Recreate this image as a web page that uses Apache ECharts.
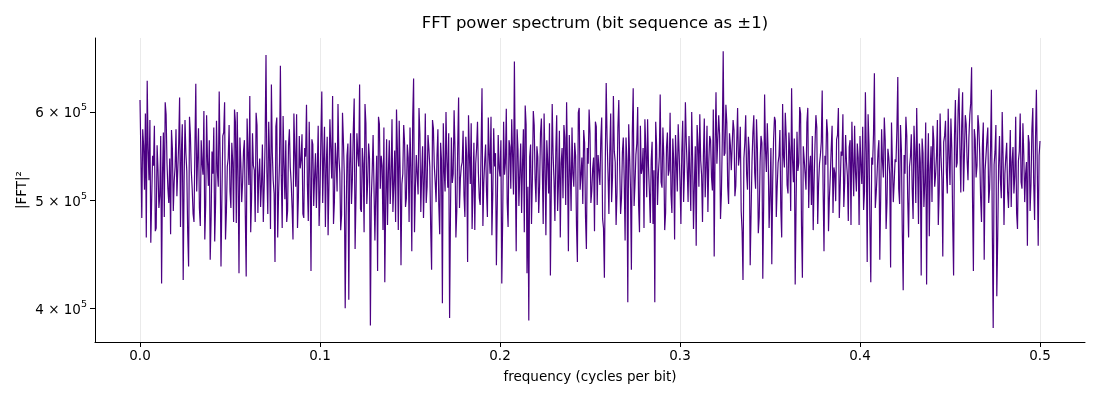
<!DOCTYPE html>
<html>
<head>
<meta charset="utf-8">
<script src="https://cdn.jsdelivr.net/npm/echarts@6/dist/echarts.min.js"></script>
<style>html,body{margin:0;padding:0;background:#fff}#c{width:1100px;height:400px}</style>
</head>
<body>
<div id="c"></div>
<script>
// Frequency bin spacing (cycles per bit) and |FFT|^2 values (in thousands)
const FREQ_STEP = 0.0005;
const xTicks = [0, 0.1, 0.2, 0.3, 0.4, 0.5];
const yTicks = [4e5, 5e5, 6e5];
// values at even bins (f = 0, 0.001, 0.002, ... 0.5)
const powerEvenK = [
615,482,560,598,640,521,458,548,583,472,
533,505,421,575,612,540,497,466,556,520,
579,505,618,553,424,590,531,436,572,512,
478,636,545,492,566,527,461,596,515,442,
553,581,497,530,626,436,571,612,488,545,
509,563,478,588,600,430,541,519,566,427,
552,620,503,537,478,584,526,493,561,515,
675,486,545,635,521,440,593,507,660,472,
538,566,489,579,518,461,552,597,503,534,
573,482,547,516,588,432,561,525,492,583,
508,626,544,473,570,519,556,620,498,541,
610,529,485,566,400,548,407,574,522,617,
503,551,635,488,539,610,496,562,386,531,
574,509,432,585,548,470,422,567,530,496,
591,517,478,556,589,437,528,563,502,546,
581,450,643,512,547,605,488,559,524,497,
572,536,433,580,519,548,495,563,404,532,
600,513,392,569,528,556,489,618,523,541,
505,570,440,549,586,512,470,557,529,495,
630,518,561,483,549,594,507,536,437,572,
525,421,588,540,497,566,512,548,666,450,
555,530,487,579,608,430,390,561,523,584,
498,547,515,592,476,538,566,507,428,610,
521,553,489,577,540,502,569,612,450,533,
581,514,548,440,605,527,496,563,452,539,
574,510,546,588,495,532,567,481,426,637,
529,553,498,620,541,508,615,486,552,522,
569,405,548,433,630,517,562,495,583,534,
472,556,591,509,543,476,405,560,528,622,
513,547,487,575,532,506,568,461,541,585,
520,553,498,612,534,571,489,546,518,455,
562,597,527,549,503,583,541,566,510,445,
625,538,572,506,680,551,587,496,560,532,
578,515,605,547,489,424,563,528,570,437,
541,596,512,556,483,571,425,622,530,549,
505,438,567,589,514,548,492,610,535,571,
507,552,630,519,420,576,540,598,426,544,
511,605,536,495,470,560,581,517,549,627,
450,538,574,502,556,487,529,567,605,514,
548,493,572,526,558,475,541,583,509,546,
571,517,490,625,440,561,422,538,650,507,
553,442,579,524,566,498,546,435,585,519,
541,645,496,555,415,528,571,463,547,512,
583,497,538,562,428,551,519,420,574,533,
498,566,527,590,509,548,445,571,530,604,
516,557,428,615,540,630,508,625,549,585,
521,596,658,432,567,537,582,503,559,442,
548,581,512,628,384,553,410,536,521,600,
475,547,509,531,493,558,526,487,542,598,
512,549,528,455,563,517,605,480,628,455,
565
];
// values at odd bins (f = 0.0005, 0.0015, ... 0.4995)
const powerOddK = [
548,579,511,463,556,590,502,537,469,560,
492,571,528,483,597,512,545,578,489,536,
504,562,473,585,519,551,468,594,531,486,
557,509,580,474,539,601,495,542,566,481,
528,459,589,514,547,503,575,461,536,584,
492,541,603,477,526,569,498,553,485,592,
516,468,574,532,599,487,545,517,478,563,
530,588,471,552,507,582,463,541,526,595,
501,478,560,535,492,598,514,472,571,543,
486,557,609,479,524,567,494,551,533,474,
569,497,582,538,465,591,523,476,563,509,
547,470,599,527,483,562,539,496,578,452,
574,536,491,557,468,586,519,545,502,572,
460,548,594,512,537,581,499,475,566,525,
488,554,603,470,532,517,584,493,561,478,
535,592,468,549,506,573,528,482,598,514,
556,471,590,537,498,579,466,543,586,509,
541,574,489,518,602,463,557,492,536,577,
483,548,596,517,471,563,539,588,502,556,
474,542,509,593,528,465,580,551,497,534,
566,482,527,604,473,558,591,506,531,579,
494,562,538,468,585,514,547,476,601,523,
559,487,574,533,598,465,541,586,512,550,
479,596,518,463,557,584,495,538,572,489,
528,563,474,599,511,546,578,483,557,603,
497,534,469,582,549,516,593,472,541,567,
486,598,524,553,475,581,537,502,569,460,
543,585,512,574,494,549,606,468,528,557,
591,503,536,477,564,532,588,495,547,519,
581,470,558,526,599,487,542,572,509,553,
476,589,531,564,498,527,600,471,559,584,
514,543,478,592,536,488,571,524,603,557,
539,596,481,567,548,609,515,574,532,590,
504,561,537,582,469,545,596,511,553,488,
575,529,591,467,541,563,498,554,586,472,
557,520,594,483,540,578,463,548,599,516,
575,489,544,568,497,531,606,474,559,528,
587,492,548,571,519,596,476,539,564,512,
548,591,469,526,583,535,499,572,482,553,
597,518,541,479,566,588,504,530,562,475,
538,582,509,553,597,477,546,573,492,528,
566,503,541,593,471,556,528,587,498,544,
579,512,584,467,549,594,502,536,573,481,
552,605,476,541,568,493,587,531,464,559,
583,514,548,475,598,522,564,589,507,548,
592,478,571,535,602,557,583,509,596,543,
569,611,503,579,524,596,551,478,587,532,
566,497,554,470,538,584,462,571,502,546,
528,563,492,578,541,507,594,471,553,519,
586,498,541,572,489,579,518,567,532,548
];

const seriesData = [];
powerEvenK.forEach((v, i) => {
  seriesData.push([2 * i * FREQ_STEP, v * 1000]);
  if (i < powerOddK.length) seriesData.push([(2 * i + 1) * FREQ_STEP, powerOddK[i] * 1000]);
});

const FONT = 'DejaVu Sans';
const chart = echarts.init(document.getElementById('c'), null, {renderer: 'canvas'});
chart.setOption({
  animation: false,
  backgroundColor: '#fff',
  title: {
    text: 'FFT power spectrum (bit sequence as ±1)',
    left: 590, top: 10, textAlign: 'center',
    textStyle: {fontFamily: FONT, fontSize: 16.5, fontWeight: 'normal', color: '#000'}
  },
  grid: {left: 95, right: 15, top: 38, bottom: 58, containLabel: false},
  xAxis: {
    type: 'value', min: -0.025, max: 0.525,
    name: 'frequency (cycles per bit)', nameLocation: 'middle', nameGap: 28,
    nameTextStyle: {fontFamily: FONT, fontSize: 13.5, color: '#000'},
    axisLine: {show: true, onZero: false, lineStyle: {color: '#000', width: 1}},
    axisTick: {show: true, customValues: xTicks, length: 5, lineStyle: {color: '#000'}},
    axisLabel: {customValues: xTicks, fontFamily: FONT, fontSize: 13.5, color: '#000', margin: 7,
      formatter: v => v.toFixed(1)},
    splitLine: {show: true, lineStyle: {color: '#e5e5e5', width: 0.8}},
    minorTick: {show: false}
  },
  yAxis: {
    type: 'log', logBase: 10, min: 373000, max: 699000,
    name: '|FFT|²', nameLocation: 'middle', nameGap: 66, nameRotate: 90, nameMoveOverlap: false,
    nameTextStyle: {fontFamily: FONT, fontSize: 13.5, color: '#000'},
    axisLine: {show: true, onZero: false, lineStyle: {color: '#000', width: 1}},
    axisTick: {show: true, customValues: yTicks, length: 5, lineStyle: {color: '#000'}},
    axisLabel: {
      customValues: yTicks, color: '#000', margin: 8,
      formatter: v => '{b|' + Math.round(v / 1e5) + ' × 10}{s|5}',
      rich: {
        b: {fontFamily: FONT, fontSize: 13.5, color: '#000', verticalAlign: 'bottom'},
        s: {fontFamily: FONT, fontSize: 9.5, color: '#000', verticalAlign: 'top', padding: [0, 0, 8, 0]}
      }
    },
    splitLine: {show: false}
  },
  series: [{
    type: 'line', data: seriesData, showSymbol: false, sampling: null,
    lineStyle: {color: '#4b0082', width: 1.2}, silent: true
  }]
});
</script>
</body>
</html>
